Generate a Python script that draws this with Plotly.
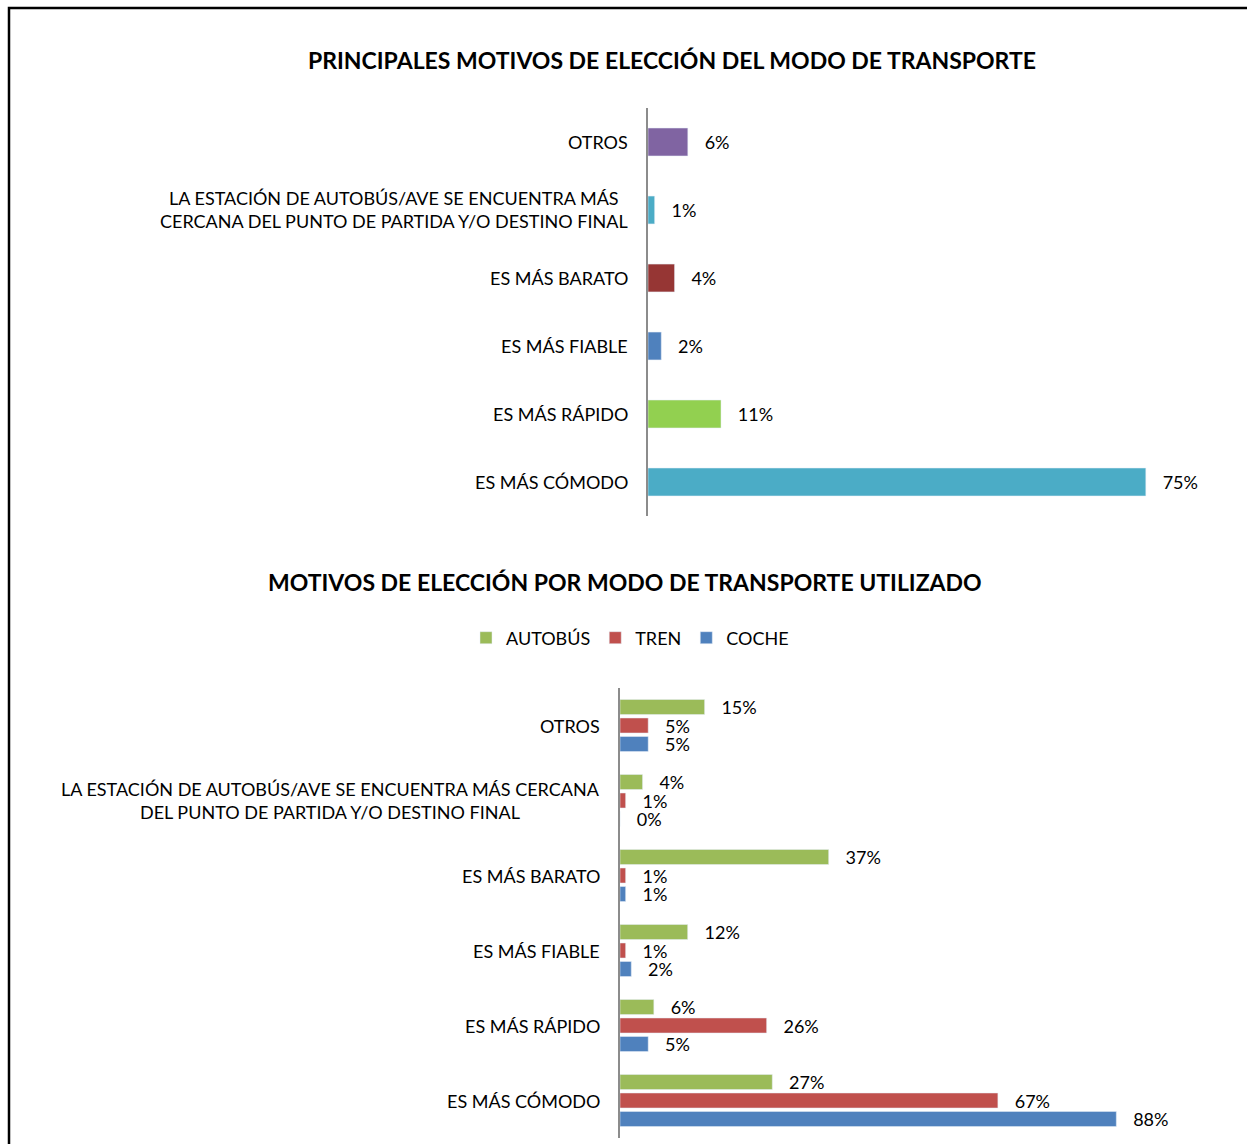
import plotly.graph_objects as go

FONT = "Lato"

# top chart: overall reasons
motivos = [
    "OTROS",
    "LA ESTACIÓN DE AUTOBÚS/AVE SE ENCUENTRA MÁS<br>CERCANA DEL PUNTO DE PARTIDA Y/O DESTINO FINAL",
    "ES MÁS BARATO",
    "ES MÁS FIABLE",
    "ES MÁS RÁPIDO",
    "ES MÁS CÓMODO",
]
total = [6, 1, 4, 2, 11, 75]
total_colors = ["#8064a2", "#4bacc6", "#963634", "#4f81bd", "#92d050", "#4bacc6"]

# bottom chart: reasons by transport mode
motivos_modo = [
    "OTROS",
    "LA ESTACIÓN DE AUTOBÚS/AVE SE ENCUENTRA MÁS CERCANA<br>DEL PUNTO DE PARTIDA Y/O DESTINO FINAL",
    "ES MÁS BARATO",
    "ES MÁS FIABLE",
    "ES MÁS RÁPIDO",
    "ES MÁS CÓMODO",
]
autobus = [15, 4, 37, 12, 6, 27]
tren = [5, 1, 1, 1, 26, 67]
coche = [5, 0, 1, 2, 5, 88]
modos = [("AUTOBÚS", autobus, "#9bbb59"), ("TREN", tren, "#c0504d"), ("COCHE", coche, "#4f81bd")]

W, H = 1247, 1144
PAD = "\u00a0\u00a0\u00a0"

fig = go.Figure()

fig.add_trace(
    go.Bar(
        x=total,
        y=motivos,
        orientation="h",
        marker_color=total_colors,
        width=0.41,
        text=[f"{PAD}{v}%" for v in total],
        textposition="outside",
        constraintext="none",
        textfont=dict(size=18, color="black", family=FONT),
        cliponaxis=False,
        showlegend=False,
        xaxis="x",
        yaxis="y",
    )
)

for name, vals, color in modos:
    fig.add_trace(
        go.Bar(
            x=vals,
            y=motivos_modo,
            name=name,
            orientation="h",
            marker_color=color,
            text=[f"{PAD}{v}%" for v in vals],
            textposition="outside",
            constraintext="none",
            textfont=dict(size=18, color="black", family=FONT),
            cliponaxis=False,
            xaxis="x2",
            yaxis="y2",
        )
    )

annotations = []
for cat in motivos:
    annotations.append(
        dict(
            x=0, y=cat, xref="x domain", yref="y", text=cat, showarrow=False,
            xanchor="right", xshift=-18, align="center",
            font=dict(size=18, color="black", family=FONT),
        )
    )
for cat in motivos_modo:
    annotations.append(
        dict(
            x=0, y=cat, xref="x2 domain", yref="y2", text=cat, showarrow=False,
            xanchor="right", xshift=-18, align="center",
            font=dict(size=18, color="black", family=FONT),
        )
    )
annotations.append(
    dict(
        x=672 / W, y=1 - 60 / H, xref="paper", yref="paper", showarrow=False,
        text="<b>PRINCIPALES MOTIVOS DE ELECCIÓN DEL MODO DE TRANSPORTE</b>",
        xanchor="center", yanchor="middle",
        font=dict(size=23, color="black", family=FONT),
    )
)
annotations.append(
    dict(
        x=625 / W, y=1 - 582 / H, xref="paper", yref="paper", showarrow=False,
        text="<b>MOTIVOS DE ELECCIÓN POR MODO DE TRANSPORTE UTILIZADO</b>",
        xanchor="center", yanchor="middle",
        font=dict(size=23, color="black", family=FONT),
    )
)

axis_common = dict(showgrid=False, zeroline=False, showticklabels=False, ticks="")

fig.update_layout(
    width=W,
    height=H,
    margin=dict(l=0, r=0, t=0, b=0),
    paper_bgcolor="white",
    plot_bgcolor="white",
    font=dict(family=FONT, size=18, color="black"),
    barmode="group",
    bargap=0.26,
    bargroupgap=0.19,
    xaxis=dict(domain=[648 / W, 1179 / W], range=[0, 80], anchor="y", **axis_common),
    yaxis=dict(
        domain=[1 - 516 / H, 1 - 108 / H], autorange="reversed", anchor="x",
        showline=True, linecolor="#8c8c8c", linewidth=2, **axis_common,
    ),
    xaxis2=dict(domain=[620 / W, 1184 / W], range=[0, 100], anchor="y2", **axis_common),
    yaxis2=dict(
        domain=[1 - 1138 / H, 1 - 688 / H], autorange="reversed", anchor="x2",
        showline=True, linecolor="#8c8c8c", linewidth=2, **axis_common,
    ),
    legend=dict(
        orientation="h", x=630 / W, y=1 - 638 / H, xanchor="center", yanchor="middle",
        font=dict(size=18, family=FONT, color="black"), itemwidth=30,
        traceorder="normal",
    ),
    annotations=annotations,
    shapes=[
        dict(
            type="rect", xref="paper", yref="paper",
            x0=9 / W, x1=1.05, y0=-0.05, y1=1 - 8 / H,
            line=dict(color="black", width=2.5),
        )
    ],
)

fig.write_html(
    "out.html",
    config={"displayModeBar": False},
    post_script="document.body.style.margin='0';document.body.style.overflow='hidden';",
)
